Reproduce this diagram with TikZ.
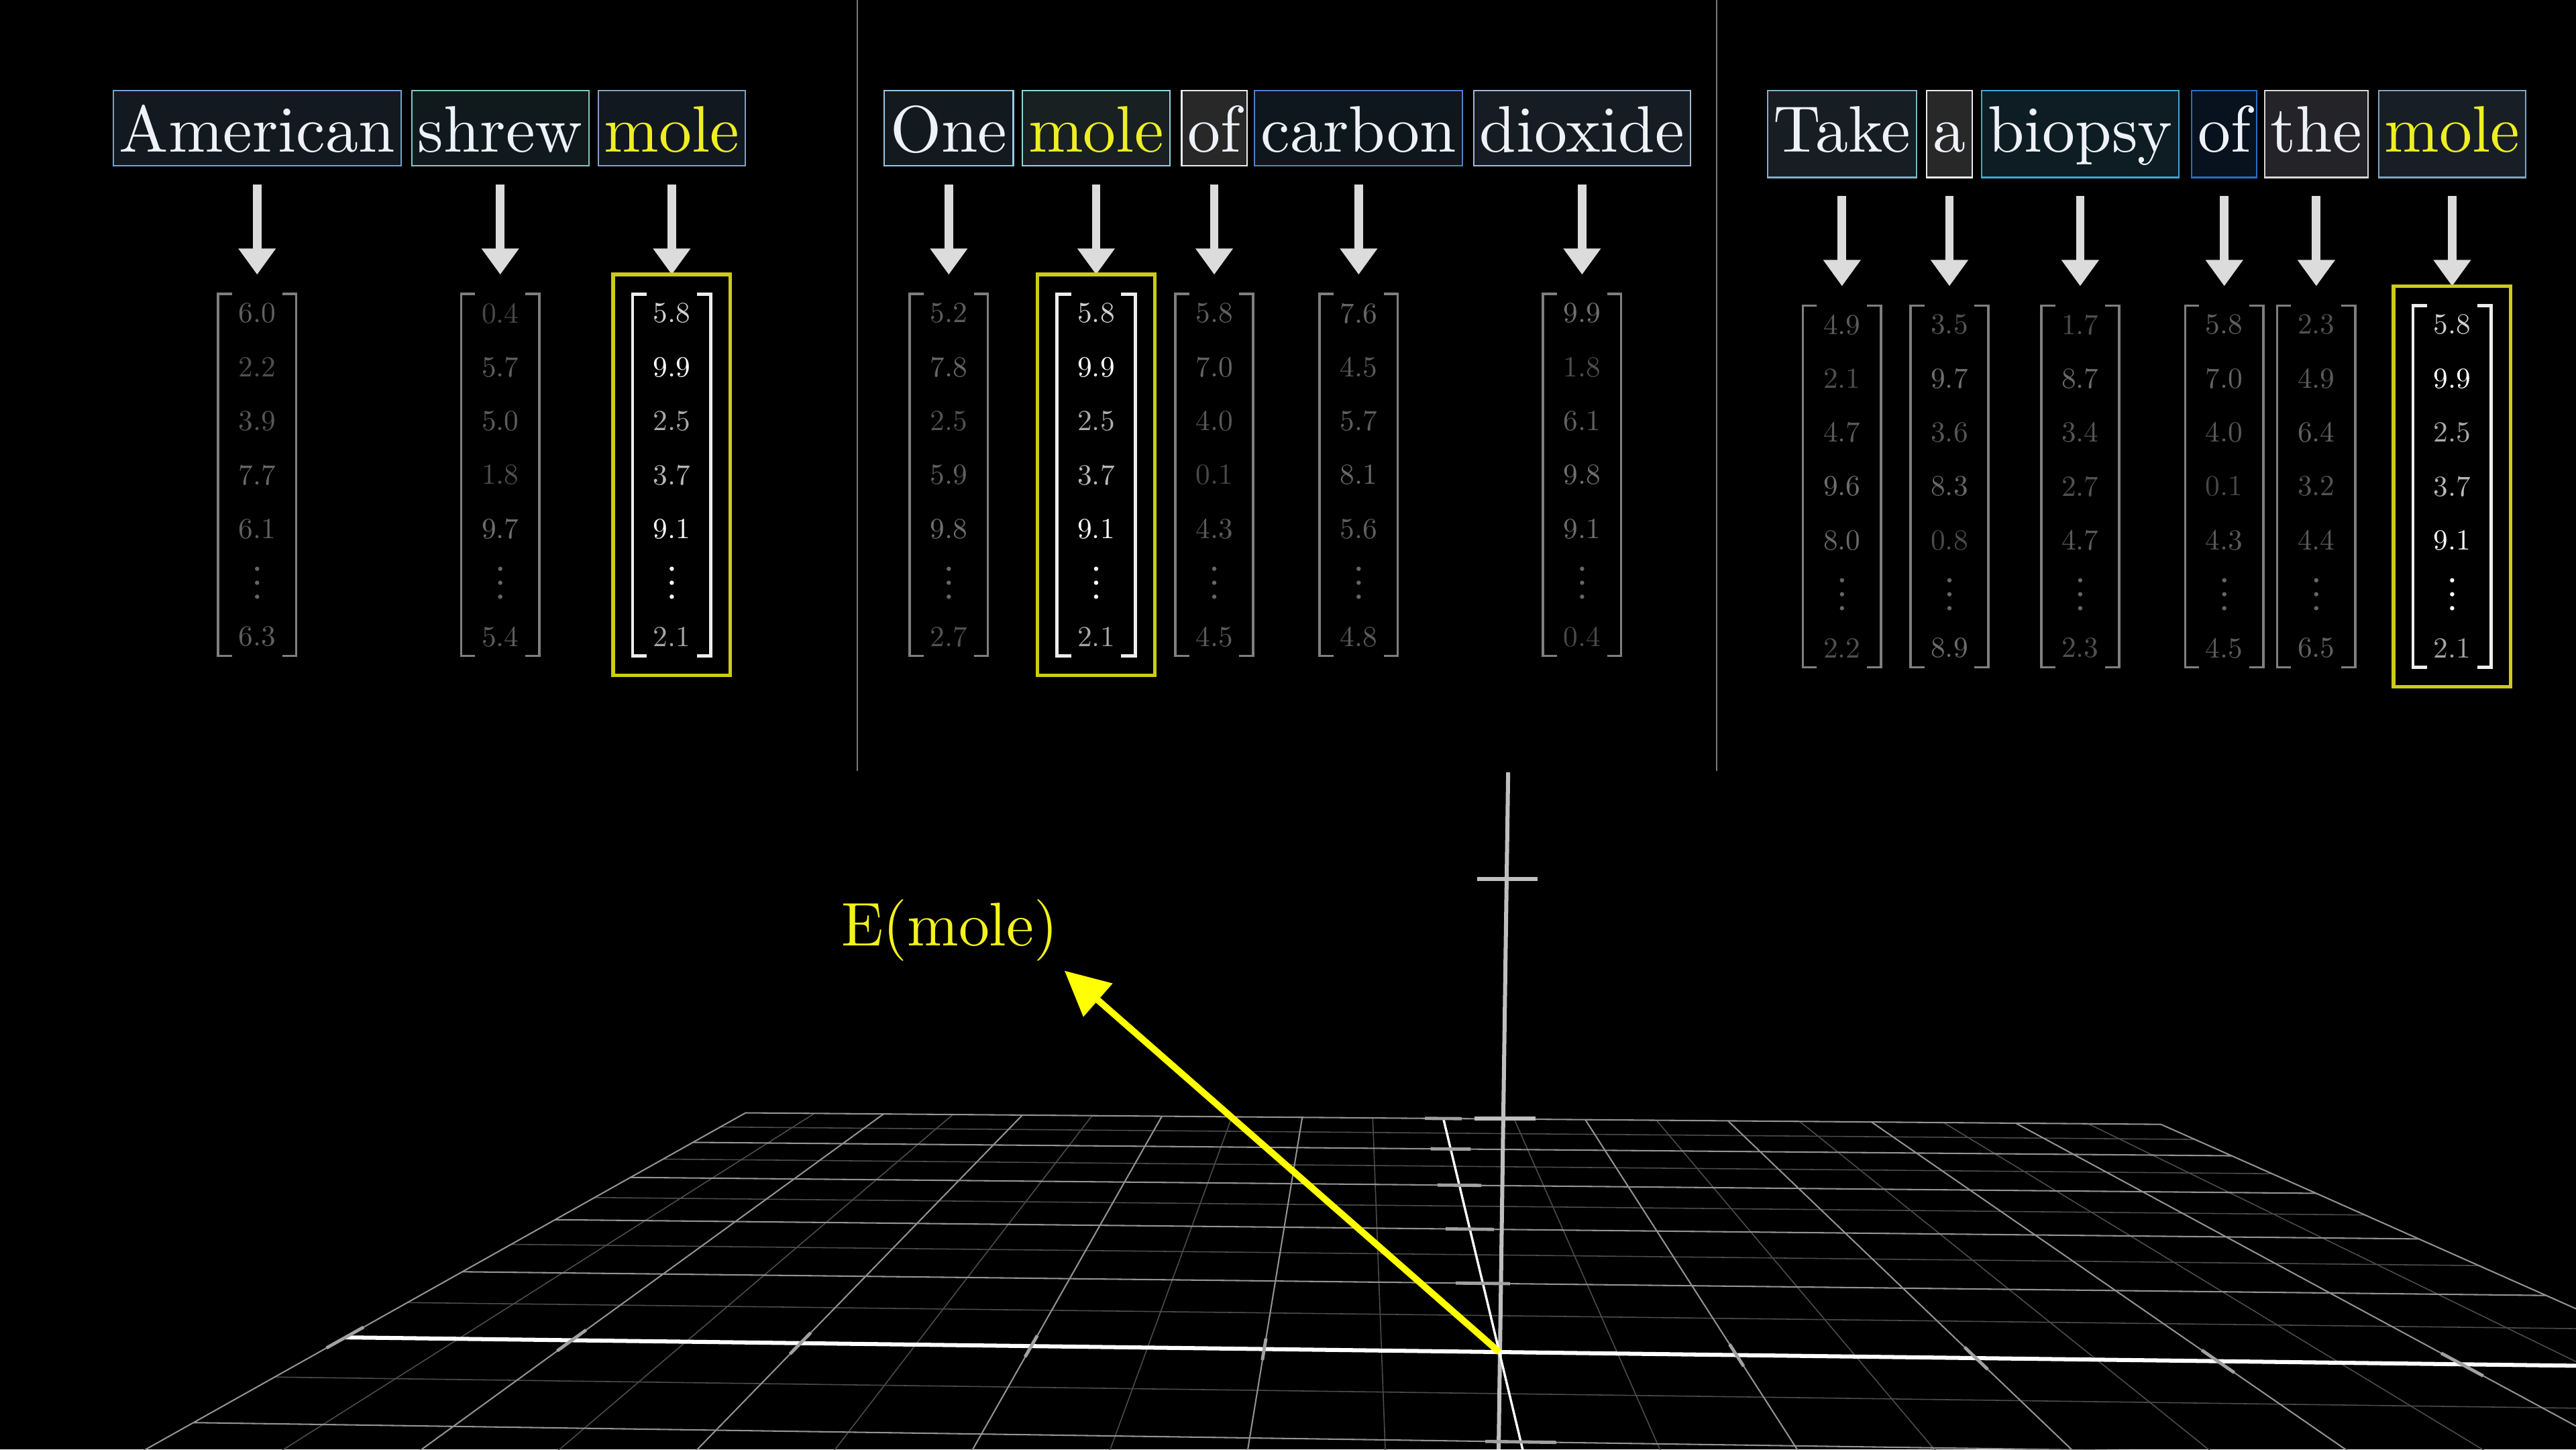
\documentclass[tikz,border=0pt]{standalone}
\usetikzlibrary{arrows.meta,positioning,calc}
\font\wordfnt="[lmroman10-regular.otf]" at 28.45pt
\font\numfnt="[lmroman10-regular.otf]" at 12.6pt
\font\labfnt="[lmroman10-regular.otf]" at 26.7pt
\definecolor{wordtxt}{HTML}{EEF2F8}
\definecolor{moletxt}{HTML}{EEEE22}
\definecolor{arrowgray}{HTML}{DCDCDC}
\definecolor{brkgray}{HTML}{7F7F7F}
\definecolor{hlyellow}{HTML}{CCCC18}
\definecolor{vecyellow}{HTML}{FFFF00}
\definecolor{labyellow}{HTML}{F2F21E}
\definecolor{majorgrid}{HTML}{939393}
\definecolor{minorgrid}{HTML}{4D4D4D}
% word boxes: border / fill
\definecolor{bdam}{HTML}{7AA0D0}\definecolor{fiam}{HTML}{131920}
\definecolor{bdshrew}{HTML}{82C8BE}\definecolor{fishrew}{HTML}{101A1C}
\definecolor{bdmole}{HTML}{82A0BE}\definecolor{fimole}{HTML}{121820}
\definecolor{bdone}{HTML}{96C8E1}\definecolor{fione}{HTML}{121A20}
\definecolor{bdmoleb}{HTML}{96D2DC}\definecolor{fimoleb}{HTML}{182022}
\definecolor{bdof}{HTML}{EBEBEB}\definecolor{fiof}{HTML}{282828}
\definecolor{bdcarbon}{HTML}{5082C8}\definecolor{ficarbon}{HTML}{0E161E}
\definecolor{bddiox}{HTML}{A0B9D2}\definecolor{fidiox}{HTML}{161C24}
\definecolor{bdtake}{HTML}{82AFC8}\definecolor{fitake}{HTML}{161E24}
\definecolor{bdbiopsy}{HTML}{3CAAD2}\definecolor{fibiopsy}{HTML}{0E1C24}
\definecolor{bdofc}{HTML}{286EC8}\definecolor{fiofc}{HTML}{08121E}
\definecolor{bdthe}{HTML}{D7D7D7}\definecolor{fithe}{HTML}{242428}
\definecolor{bdmolec}{HTML}{82A5BE}\definecolor{fimolec}{HTML}{181E26}

\tikzset{
  word/.style 2 args={draw=#1, fill=#2, line width=0.6pt, inner xsep=0.93mm, inner ysep=0pt,
    text height=9.375mm, text depth=2.125mm, font=\wordfnt, text=wordtxt, anchor=base},
  deep/.style={text depth=3.875mm},
  vecbox/.style={inner sep=0pt, minimum width=11.75mm, minimum height=54.9mm},
  wordarrow/.style={draw=arrowgray, line width=3.7pt, -{Triangle[width=5.45mm,length=3.98mm]},
    shorten <=2.72mm, shorten >=2.95mm},
  brk/.style={draw=brkgray, line width=1.07pt},
  hlbrk/.style={draw=white!93!black, line width=1.35pt},
  hlbox/.style={draw=hlyellow, line width=1.5pt},
  num/.style={font=\numfnt, inner sep=0pt},
  divider/.style={draw=white!48!black, line width=0.6pt},
  minorline/.style={draw=minorgrid, line width=0.45pt},
  majorline/.style={draw=majorgrid, line width=0.6pt},
  xaxisline/.style={draw=white, line width=1.75pt},
  yaxisline/.style={draw=white, line width=1pt},
  zaxisline/.style={draw=white!75!black, line width=1.75pt},
  tickline/.style={draw=white!63!black, line width=1.4pt},
  vecline/.style={draw=vecyellow, line width=2.85pt, -{Triangle[width=6.5mm,length=6.8mm]}},
}

% ground plane seen in perspective: (u,v) -> picture
\newcommand{\gp}[2]{({(912.6+139.5*(#1)+110.4*(#2))/(1-0.00465*(#1)+0.1334*(#2))},{(822.8-2.0*(#1)+62.38*(#2))/(1-0.00465*(#1)+0.1334*(#2))})}

% embedding column under a word: name, word, highlighted (0/1), values
\newcommand{\embvec}[4]{%
  \node[vecbox, below=19.375mm of #2] (#1) {};
  \draw[wordarrow] (#2.south) -- (#1.north);
  \ifnum#3=1
    \draw[hlbox] ([shift={(-11.9,-11.9)}]#1.north west) rectangle ([shift={(11.9,11.9)}]#1.south east);
    \tikzset{vb/.style={hlbrk}, vd/.style={fill=white}}%
  \else
    \tikzset{vb/.style={brk}, vd/.style={fill=white!40!black}}%
  \fi
  \draw[vb] ([shift={(8.5,0)}]#1.north west) -- (#1.north west) -- (#1.south west) -- ++(8.5,0);
  \draw[vb] ([shift={(-8.5,0)}]#1.north east) -- (#1.north east) -- (#1.south east) -- ++(-8.5,0);
  \foreach \val [count=\i] in {#4} {
    \ifnum\i=6 \def\row{6}\else\pgfmathtruncatemacro\row{\i-1}\fi
    \ifnum#3=1 \pgfmathsetmacro\pc{min(100,55+4.7*\val)}\else\pgfmathsetmacro\pc{28+1.6*\val}\fi
    \node[num, text=white!\pc!black] (#1-\i) at ([shift={(0,{11.7+32.8*\row})}]#1.north) {\val};
  }
  \foreach \dy in {-8.5,0,8.5}
    \fill[vd] ([shift={(0,{11.7+32.8*5+\dy})}]#1.north) circle[radius=0.33mm];
}

\begin{document}
\begin{tikzpicture}[x=0.25mm, y=-0.25mm]
  \useasboundingbox (0,0) rectangle (1568,882);
  \fill[black] (0,0) rectangle (1568,882);
  \clip (0,0) rectangle (1568,882);

  % panels
  \draw[divider] (522,0) -- (522,469);
  \draw[divider] (1045,0) -- (1045,469);

  % first sentence
  \node[word={bdam}{fiam}] (am) at (156.5,92.5) {American};
  \node[word={bdshrew}{fishrew}] (shrew) at (304.5,92.5) {shrew};
  \node[word={bdmole}{fimole}, text=moletxt] (molea) at (408.9,92.5) {mole};
  \embvec{vam}{am}{0}{6.0,2.2,3.9,7.7,6.1,6.3}
  \embvec{vshrew}{shrew}{0}{0.4,5.7,5.0,1.8,9.7,5.4}
  \embvec{vmolea}{molea}{1}{5.8,9.9,2.5,3.7,9.1,2.1}

  % second sentence
  \node[word={bdone}{fione}] (one) at (577.5,92.5) {One};
  \node[word={bdmoleb}{fimoleb}, text=moletxt] (moleb) at (667.2,92.5) {mole};
  \node[word={bdof}{fiof}] (ofb) at (739.1,92.5) {of};
  \node[word={bdcarbon}{ficarbon}] (carbon) at (827,92.5) {carbon};
  \node[word={bddiox}{fidiox}] (diox) at (963,92.5) {dioxide};
  \embvec{vone}{one}{0}{5.2,7.8,2.5,5.9,9.8,2.7}
  \embvec{vmoleb}{moleb}{1}{5.8,9.9,2.5,3.7,9.1,2.1}
  \embvec{vofb}{ofb}{0}{5.8,7.0,4.0,0.1,4.3,4.5}
  \embvec{vcarbon}{carbon}{0}{7.6,4.5,5.7,8.1,5.6,4.8}
  \embvec{vdiox}{diox}{0}{9.9,1.8,6.1,9.8,9.1,0.4}

  % third sentence
  \node[word={bdtake}{fitake}, deep] (take) at (1121.2,92.5) {Take};
  \node[word={bdof}{fiof}, deep] (art) at (1186.6,92.5) {a};
  \node[word={bdbiopsy}{fibiopsy}, deep] (biopsy) at (1266.2,92.5) {biopsy};
  \node[word={bdofc}{fiofc}, deep] (ofc) at (1353.9,92.5) {of};
  \node[word={bdthe}{fithe}, deep] (the) at (1409.9,92.5) {the};
  \node[word={bdmolec}{fimolec}, deep, text=moletxt] (molec) at (1492.6,92.5) {mole};
  \embvec{vtake}{take}{0}{4.9,2.1,4.7,9.6,8.0,2.2}
  \embvec{vart}{art}{0}{3.5,9.7,3.6,8.3,0.8,8.9}
  \embvec{vbiopsy}{biopsy}{0}{1.7,8.7,3.4,2.7,4.7,2.3}
  \embvec{vofc}{ofc}{0}{5.8,7.0,4.0,0.1,4.3,4.5}
  \embvec{vthe}{the}{0}{2.3,4.9,6.4,3.2,4.4,6.5}
  \embvec{vmolec}{molec}{1}{5.8,9.9,2.5,3.7,9.1,2.1}

  % ground grid
  \foreach \u in {-4.5,-3.5,...,4.5} \draw[minorline] \gp{\u}{-2} -- \gp{\u}{5};
  \foreach \v in {-1.5,-0.5,...,4.5} \draw[minorline] \gp{-5}{\v} -- \gp{5}{\v};
  \foreach \u in {-5,...,5} \draw[majorline] \gp{\u}{-2} -- \gp{\u}{5};
  \foreach \v in {-2,...,5} \draw[majorline] \gp{-5}{\v} -- \gp{5}{\v};

  % axes
  \coordinate (O) at (912.6,822.8);
  \draw[zaxisline] (912.2,882) -- (918,470);
  \draw[zaxisline] (897.5,680.5) -- (934.5,680.5);
  \draw[zaxisline] (899,534.9) -- (936,534.9);
  \draw[yaxisline] \gp{0}{-2} -- \gp{0}{5};
  \foreach \v in {-1,1,2,3,4,5} \draw[tickline] \gp{-0.13}{\v} -- \gp{0.13}{\v};
  \draw[xaxisline] \gp{-5}{0} -- \gp{5}{0};
  \foreach \u in {-5,-4,-3,-2,-1,1,2,3,4} \draw[tickline] \gp{\u}{-0.14} -- \gp{\u}{0.14};

  % embedding of mole
  \coordinate (Etip) at (647.9,590.7);
  \draw[vecline] (O) -- (Etip);
  \node[font=\labfnt, text=labyellow, anchor=base west, inner sep=0pt] (elabel) at (511.8,575.5) {E(mole)};
\end{tikzpicture}
\end{document}
